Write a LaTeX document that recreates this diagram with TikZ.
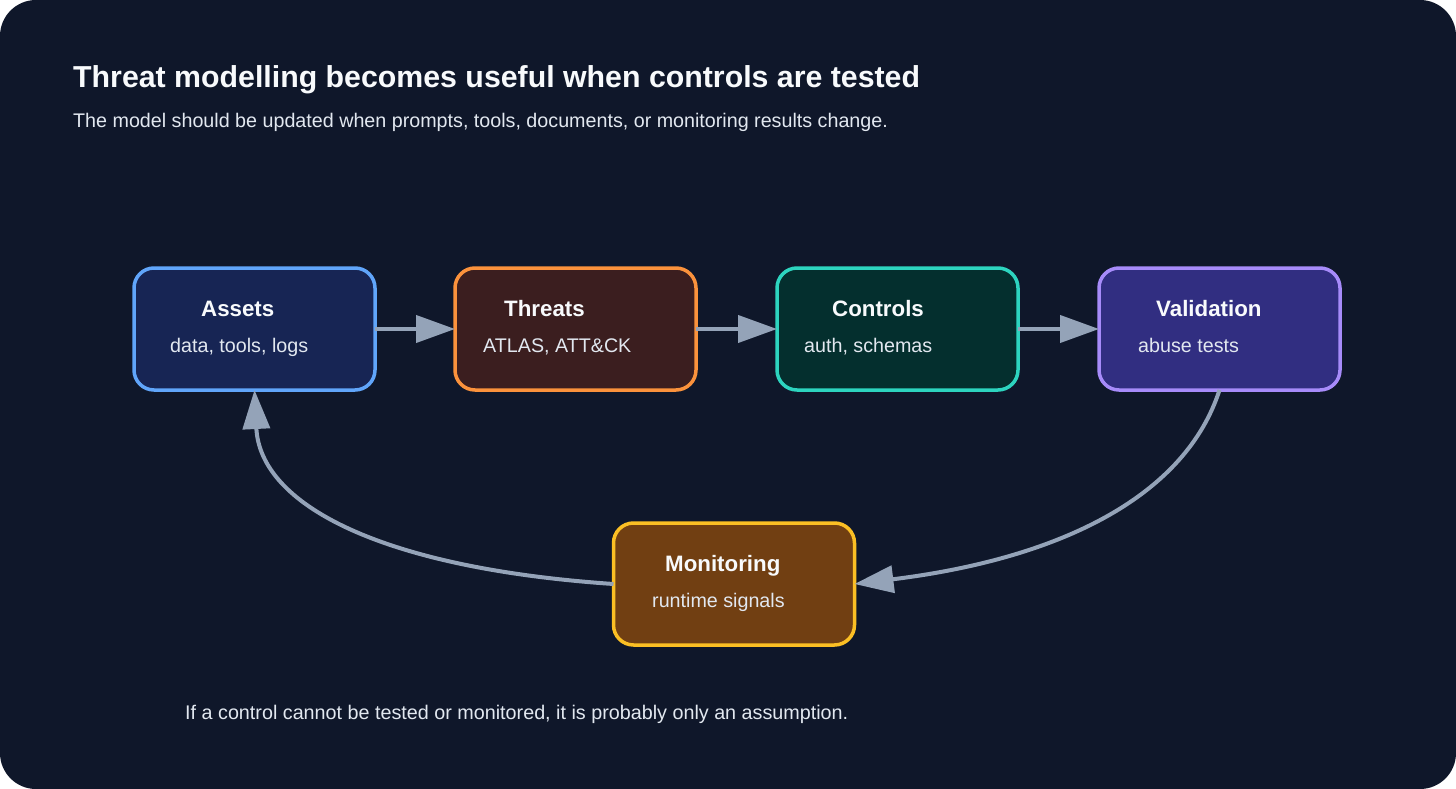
\documentclass[tikz,border=0pt]{standalone}
\usepackage{fontspec}
\setmainfont{Liberation Sans}
\usetikzlibrary{arrows.meta}
\definecolor{bg}{HTML}{0F172A}
\definecolor{txtw}{HTML}{F8FAFC}
\definecolor{txtl}{HTML}{E2E8F0}
\definecolor{arr}{HTML}{94A3B8}
\definecolor{fA}{HTML}{172554}\definecolor{sA}{HTML}{60A5FA}
\definecolor{fT}{HTML}{3B1E1F}\definecolor{sT}{HTML}{FB923C}
\definecolor{fC}{HTML}{042F2E}\definecolor{sC}{HTML}{2DD4BF}
\definecolor{fV}{HTML}{312E81}\definecolor{sV}{HTML}{A78BFA}
\definecolor{fM}{HTML}{713F12}\definecolor{sM}{HTML}{FBBF24}
\tikzset{
  stagebox/.style={rectangle, rounded corners=20pt, line width=3.5pt, minimum width=241pt, minimum height=122pt, outer sep=0pt, inner sep=0pt},
  boxtitle/.style={anchor=base west, inner sep=0pt, text=txtw, font=\fontsize{22.3}{26}\selectfont\bfseries},
  boxsub/.style={anchor=base west, inner sep=0pt, text=txtl, font=\fontsize{19.7}{23}\selectfont},
  flow/.style={draw=arr, line width=4pt, -{Triangle[length=39pt,width=27pt]}},
}
\begin{document}
\begin{tikzpicture}[x=1pt,y=-1pt]
\useasboundingbox (0,0) rectangle (1456,789);
\fill[white] (0,0) rectangle (1456,789);
\fill[bg, rounded corners=36pt] (0,0) rectangle (1456,789);

\node[anchor=base west, inner sep=0pt, text=txtw, font=\fontsize{30.3}{36}\selectfont\bfseries] (title) at (73,88) {Threat modelling becomes useful when controls are tested};
\node[anchor=base west, inner sep=0pt, text=txtl, font=\fontsize{19.7}{23}\selectfont] (subtitle) at (73,127.5) {The model should be updated when prompts, tools, documents, or monitoring results change.};
\node[anchor=base west, inner sep=0pt, text=txtl, font=\fontsize{19.75}{23}\selectfont] (footer) at (185,719) {If a control cannot be tested or monitored, it is probably only an assumption.};

\node[stagebox, draw=sA, fill=fA] (assets) at (254.5,329) {};
\node[stagebox, draw=sT, fill=fT] (threats) at (575.5,329) {};
\node[stagebox, draw=sC, fill=fC] (controls) at (897.5,329) {};
\node[stagebox, draw=sV, fill=fV] (validation) at (1219.5,329) {};
\node[stagebox, draw=sM, fill=fM] (monitoring) at (734,584) {};

\node[boxtitle] (assetsT) at (201,316) {Assets};
\node[boxsub] (assetsS) at (170,352) {data, tools, logs};
\node[boxtitle] (threatsT) at (504,316) {Threats};
\node[boxsub] (threatsS) at (483,352) {ATLAS, ATT\&CK};
\node[boxtitle] (controlsT) at (832,316) {Controls};
\node[boxsub] (controlsS) at (804,352) {auth, schemas};
\node[boxtitle] (validationT) at (1156,316) {Validation};
\node[boxsub] (validationS) at (1138,352) {abuse tests};
\node[boxtitle] (monitoringT) at (665,571) {Monitoring};
\node[boxsub] (monitoringS) at (652,607) {runtime signals};

\draw[flow] (assets.east) -- (threats.west);
\draw[flow] (threats.east) -- (controls.west);
\draw[flow] (controls.east) -- (validation.west);
\draw[flow] (validation.south) .. controls (1186,494) and (1065,558) .. (monitoring.east);
\draw[flow] (monitoring.west) .. controls (379,568) and (260,504) .. (assets.south);
\end{tikzpicture}
\end{document}
